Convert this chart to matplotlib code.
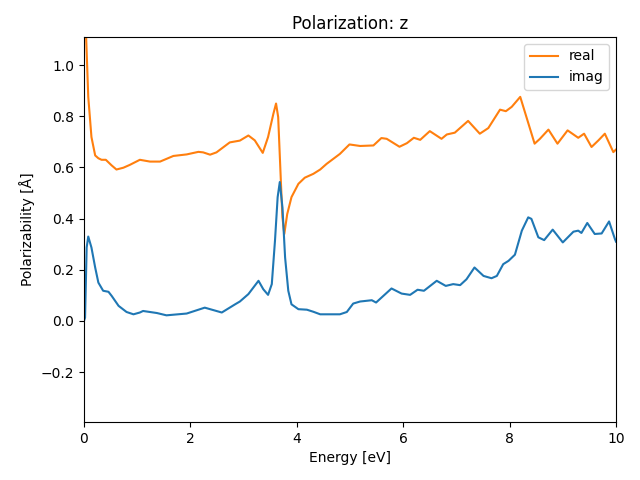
import matplotlib
matplotlib.use("Agg")
import matplotlib.pyplot as plt

real_x = [0.0, 0.04, 0.08, 0.14, 0.21, 0.27, 0.33, 0.41, 0.52, 0.61, 0.74, 0.86, 1.05, 1.24, 1.43,
          1.68, 1.93, 2.15, 2.24, 2.37, 2.49, 2.74, 2.93, 3.09, 3.21, 3.36, 3.46, 3.56, 3.61, 3.65,
          3.70, 3.73, 3.765, 3.82, 3.90, 4.03, 4.15, 4.31, 4.44, 4.56, 4.81, 4.99, 5.19, 5.44, 5.59,
          5.69, 5.93, 6.07, 6.20, 6.32, 6.50, 6.72, 6.82, 6.97, 7.22, 7.44, 7.60, 7.82, 7.93, 8.04,
          8.20, 8.47, 8.57, 8.73, 8.90, 9.09, 9.29, 9.40, 9.54, 9.67, 9.79, 9.95, 10.0]
real_y = [1.35, 1.11, 0.876, 0.719, 0.647, 0.636, 0.63, 0.63, 0.608, 0.592, 0.599, 0.61, 0.63, 0.623,
          0.623, 0.645, 0.651, 0.661, 0.659, 0.65, 0.659, 0.698, 0.705, 0.725, 0.706, 0.657, 0.719, 0.81,
          0.85, 0.797, 0.549, 0.405, 0.34, 0.418, 0.484, 0.536, 0.56, 0.575, 0.592, 0.614, 0.653, 0.69,
          0.684, 0.686, 0.715, 0.712, 0.681, 0.695, 0.716, 0.708, 0.742, 0.712, 0.729, 0.736, 0.782, 0.732,
          0.754, 0.826, 0.82, 0.837, 0.876, 0.693, 0.712, 0.748, 0.693, 0.745, 0.716, 0.732, 0.68, 0.706,
          0.732, 0.66, 0.67]

imag_x = [0.0, 0.02, 0.05, 0.08, 0.14, 0.21, 0.27, 0.36, 0.46, 0.52, 0.65, 0.80, 0.93, 1.05, 1.11,
          1.37, 1.55, 1.93, 2.27, 2.59, 2.84, 2.93, 3.09, 3.28, 3.37, 3.46, 3.53, 3.59, 3.64, 3.68,
          3.73, 3.78, 3.84, 3.90, 4.03, 4.19, 4.31, 4.44, 4.81, 4.94, 5.06, 5.19, 5.41, 5.49, 5.78,
          5.97, 6.13, 6.27, 6.39, 6.63, 6.80, 6.94, 7.07, 7.19, 7.34, 7.51, 7.66, 7.76, 7.88, 7.98,
          8.10, 8.23, 8.35, 8.41, 8.54, 8.65, 8.81, 9.00, 9.20, 9.29, 9.35, 9.46, 9.60, 9.73, 9.87,
          9.98, 10.0]
imag_y = [0.0, 0.013, 0.287, 0.33, 0.287, 0.209, 0.15, 0.118, 0.114, 0.098, 0.059, 0.035, 0.026, 0.033,
          0.039, 0.031, 0.022, 0.029, 0.052, 0.033, 0.065, 0.076, 0.105, 0.157, 0.124, 0.102, 0.144, 0.314,
          0.484, 0.543, 0.444, 0.248, 0.118, 0.065, 0.046, 0.044, 0.036, 0.026, 0.026, 0.035, 0.068, 0.076,
          0.081, 0.072, 0.127, 0.107, 0.102, 0.122, 0.118, 0.157, 0.137, 0.144, 0.14, 0.163, 0.209, 0.176,
          0.167, 0.176, 0.222, 0.235, 0.259, 0.353, 0.405, 0.399, 0.327, 0.316, 0.357, 0.307, 0.349, 0.353,
          0.344, 0.383, 0.34, 0.342, 0.389, 0.32, 0.31]

fig, ax = plt.subplots(figsize=(6.4, 4.8), dpi=100)
ax.plot(real_x, real_y, color="#ff7f0e", label="real")
ax.plot(imag_x, imag_y, color="#1f77b4", label="imag")
ax.set_xlim(0, 10)
ax.set_ylim(-0.395, 1.11)
ax.set_title("Polarization: z")
ax.set_xlabel("Energy [eV]")
ax.set_ylabel("Polarizability [Å]")
ax.legend(loc="upper right")
fig.subplots_adjust(left=84 / 640, right=616 / 640, top=1 - 37 / 480, bottom=1 - 422 / 480)
fig.savefig("out.png", dpi=100)
